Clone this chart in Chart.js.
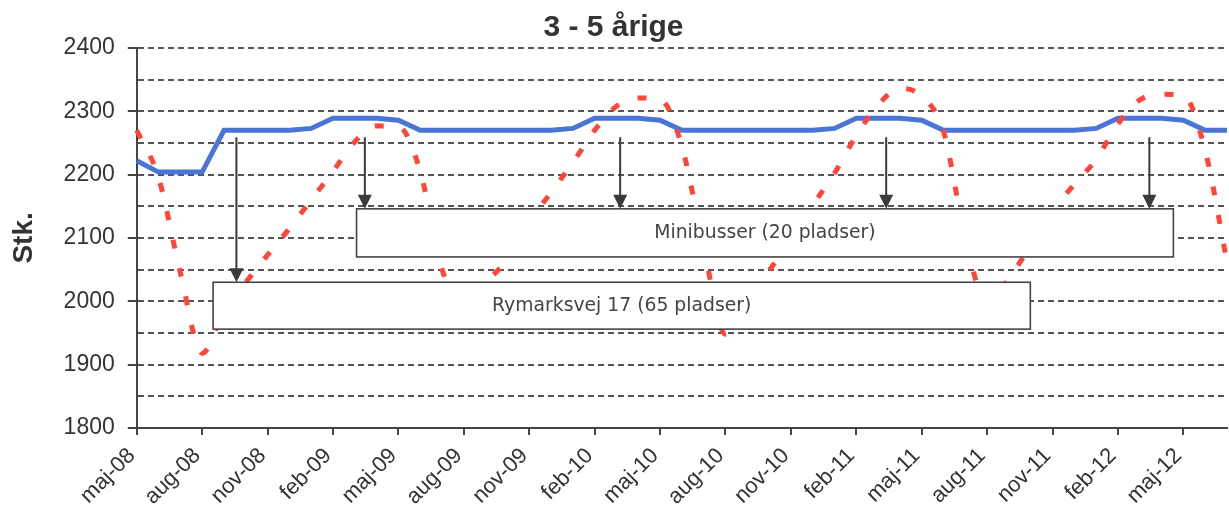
<!DOCTYPE html>
<html>
<head>
<meta charset="utf-8">
<script src="https://cdn.jsdelivr.net/npm/chart.js@4/dist/chart.umd.min.js"></script>
<style>
  html, body { margin: 0; padding: 0; background: #fff; }
  #wrap { width: 1229px; height: 518px; }
</style>
</head>
<body>
<div id="wrap"><canvas id="chart0" width="1229" height="518"></canvas></div>
<script>
// months from maj-08 to jul-12
const months = [
  "maj-08", "jun-08", "jul-08", "aug-08", "sep-08", "okt-08", "nov-08", "dec-08",
  "jan-09", "feb-09", "mar-09", "apr-09", "maj-09", "jun-09", "jul-09", "aug-09",
  "sep-09", "okt-09", "nov-09", "dec-09", "jan-10", "feb-10", "mar-10", "apr-10",
  "maj-10", "jun-10", "jul-10", "aug-10", "sep-10", "okt-10", "nov-10", "dec-10",
  "jan-11", "feb-11", "mar-11", "apr-11", "maj-11", "jun-11", "jul-11", "aug-11",
  "sep-11", "okt-11", "nov-11", "dec-11", "jan-12", "feb-12", "mar-12", "apr-12",
  "maj-12", "jun-12", "jul-12"
];

// capacity (blue)
const pladser = [
  2222, 2204, 2204, 2204, 2270, 2270, 2270, 2270,
  2273, 2289, 2289, 2289, 2286, 2270, 2270, 2270,
  2270, 2270, 2270, 2270, 2273, 2289, 2289, 2289,
  2286, 2270, 2270, 2270, 2270, 2270, 2270, 2270,
  2273, 2289, 2289, 2289, 2286, 2270, 2270, 2270,
  2270, 2270, 2270, 2270, 2273, 2289, 2289, 2289,
  2286, 2270, 2270
];

// number of children (red, dashed)
const boern = [
  2270, 2195, 2045, 1918, 1985, 2030, 2073, 2115,
  2160, 2205, 2252, 2277, 2276, 2205, 2050, 1995,
  2030, 2066, 2125, 2172, 2219, 2270, 2308, 2321,
  2319, 2245, 2085, 1948, 2000, 2048, 2100, 2152,
  2202, 2262, 2310, 2336, 2324, 2268, 2100, 1995,
  2036, 2088, 2142, 2185, 2224, 2280, 2318, 2327,
  2325, 2238, 2062
];

const yTicks = [1800, 1900, 2000, 2100, 2200, 2300, 2400];

// text boxes and arrows, placed in data units (month index, Stk.)
const boxes = [
  { text: "Minibusser (20 pladser)", from: 10.08, to: 47.54, top: 2146, bottom: 2070 },
  { text: "Rymarksvej 17 (65 pladser)", from: 3.5, to: 40.98, top: 2030, bottom: 1956 }
];
const arrows = [
  { at: 4.57, from: 2259, to: 2030 },
  { at: 10.46, from: 2259, to: 2146 },
  { at: 22.17, from: 2259, to: 2146 },
  { at: 34.37, from: 2259, to: 2146 },
  { at: 46.44, from: 2259, to: 2146 }
];

const annotationPlugin = {
  id: "boxes",
  afterDatasetsDraw(chart) {
    const c = chart.ctx;
    const x = chart.scales.x, y = chart.scales.y;
    c.save();
    boxes.forEach(b => {
      const x0 = x.getPixelForValue(b.from), x1 = x.getPixelForValue(b.to);
      const y0 = y.getPixelForValue(b.top), y1 = y.getPixelForValue(b.bottom);
      c.fillStyle = "#fff";
      c.fillRect(x0, y0, x1 - x0, y1 - y0);
      c.strokeStyle = "#444";
      c.lineWidth = 1.6;
      c.strokeRect(x0, y0, x1 - x0, y1 - y0);
      c.fillStyle = "#444";
      c.font = "18.8px 'DejaVu Sans'";
      c.textAlign = "center";
      c.textBaseline = "middle";
      c.fillText(b.text, (x0 + x1) / 2, (y0 + y1) / 2);
    });
    arrows.forEach(a => {
      const px = x.getPixelForValue(a.at);
      const p0 = y.getPixelForValue(a.from), p1 = y.getPixelForValue(a.to);
      c.strokeStyle = "#3a3a3a";
      c.fillStyle = "#3a3a3a";
      c.lineWidth = 2;
      c.beginPath();
      c.moveTo(px, p0);
      c.lineTo(px, p1 - 12);
      c.stroke();
      c.beginPath();
      c.moveTo(px - 7, p1 - 14);
      c.lineTo(px + 7, p1 - 14);
      c.lineTo(px, p1);
      c.closePath();
      c.fill();
    });
    c.restore();
  }
};

const ctx = document.getElementById("chart0").getContext("2d");
const chart = new Chart(ctx, {
  type: "line",
  data: {
    labels: months,
    datasets: [
      {
        label: "Børn",
        data: boern,
        borderColor: "#ff4536",
        borderWidth: 5,
        borderDash: [9, 20],
        cubicInterpolationMode: "monotone",
        pointRadius: 0,
        fill: false
      },
      {
        label: "Pladser",
        data: pladser,
        borderColor: "#4a74d6",
        borderWidth: 5,
        tension: 0,
        pointRadius: 0,
        fill: false
      }
    ]
  },
  plugins: [annotationPlugin],
  options: {
    responsive: false,
    animation: false,
    layout: { padding: { left: 0, right: 2, top: 0, bottom: 0 } },
    plugins: {
      legend: { display: false },
      tooltip: { enabled: false },
      title: {
        display: true,
        text: "3 - 5 årige",
        color: "#333",
        font: { family: "'Liberation Sans', Arial", size: 30, weight: "bold" },
        padding: { top: 10, bottom: 2 }
      }
    },
    scales: {
      x: {
        offset: false,
        grid: {
          drawOnChartArea: false,
          lineWidth: 2,
          tickLength: 7,
          tickColor: c => (c.index % 3 === 0 ? "#444" : "rgba(0,0,0,0)")
        },
        border: { color: "#444", width: 2 },
        ticks: {
          autoSkip: false,
          minRotation: 45,
          maxRotation: 45,
          padding: 8,
          labelOffset: -5,
          color: "#333",
          font: { family: "'Liberation Sans', Arial", size: 22 },
          callback: (v, i) => (i % 3 === 0 ? months[i] : "")
        },
        afterFit: s => { s.paddingRight = 0; }
      },
      y: {
        min: 1800,
        max: 2400,
        grid: {
          color: "#555",
          lineWidth: 2,
          tickLength: 9,
          tickColor: c => (c.tick && yTicks.includes(c.tick.value) ? "#444" : "rgba(0,0,0,0)")
        },
        border: { color: "#444", width: 2, dash: [6, 4] },
        ticks: {
          stepSize: 50,
          padding: 13,
          color: "#333",
          font: { family: "'Liberation Sans', Arial", size: 23 },
          callback: v => (yTicks.includes(v) ? v : "")
        },
        title: {
          display: true,
          text: "Stk.",
          color: "#333",
          font: { family: "'Liberation Sans', Arial", size: 28, weight: "bold" },
          padding: { top: 7, bottom: 10 }
        }
      }
    }
  }
});
</script>
</body>
</html>
